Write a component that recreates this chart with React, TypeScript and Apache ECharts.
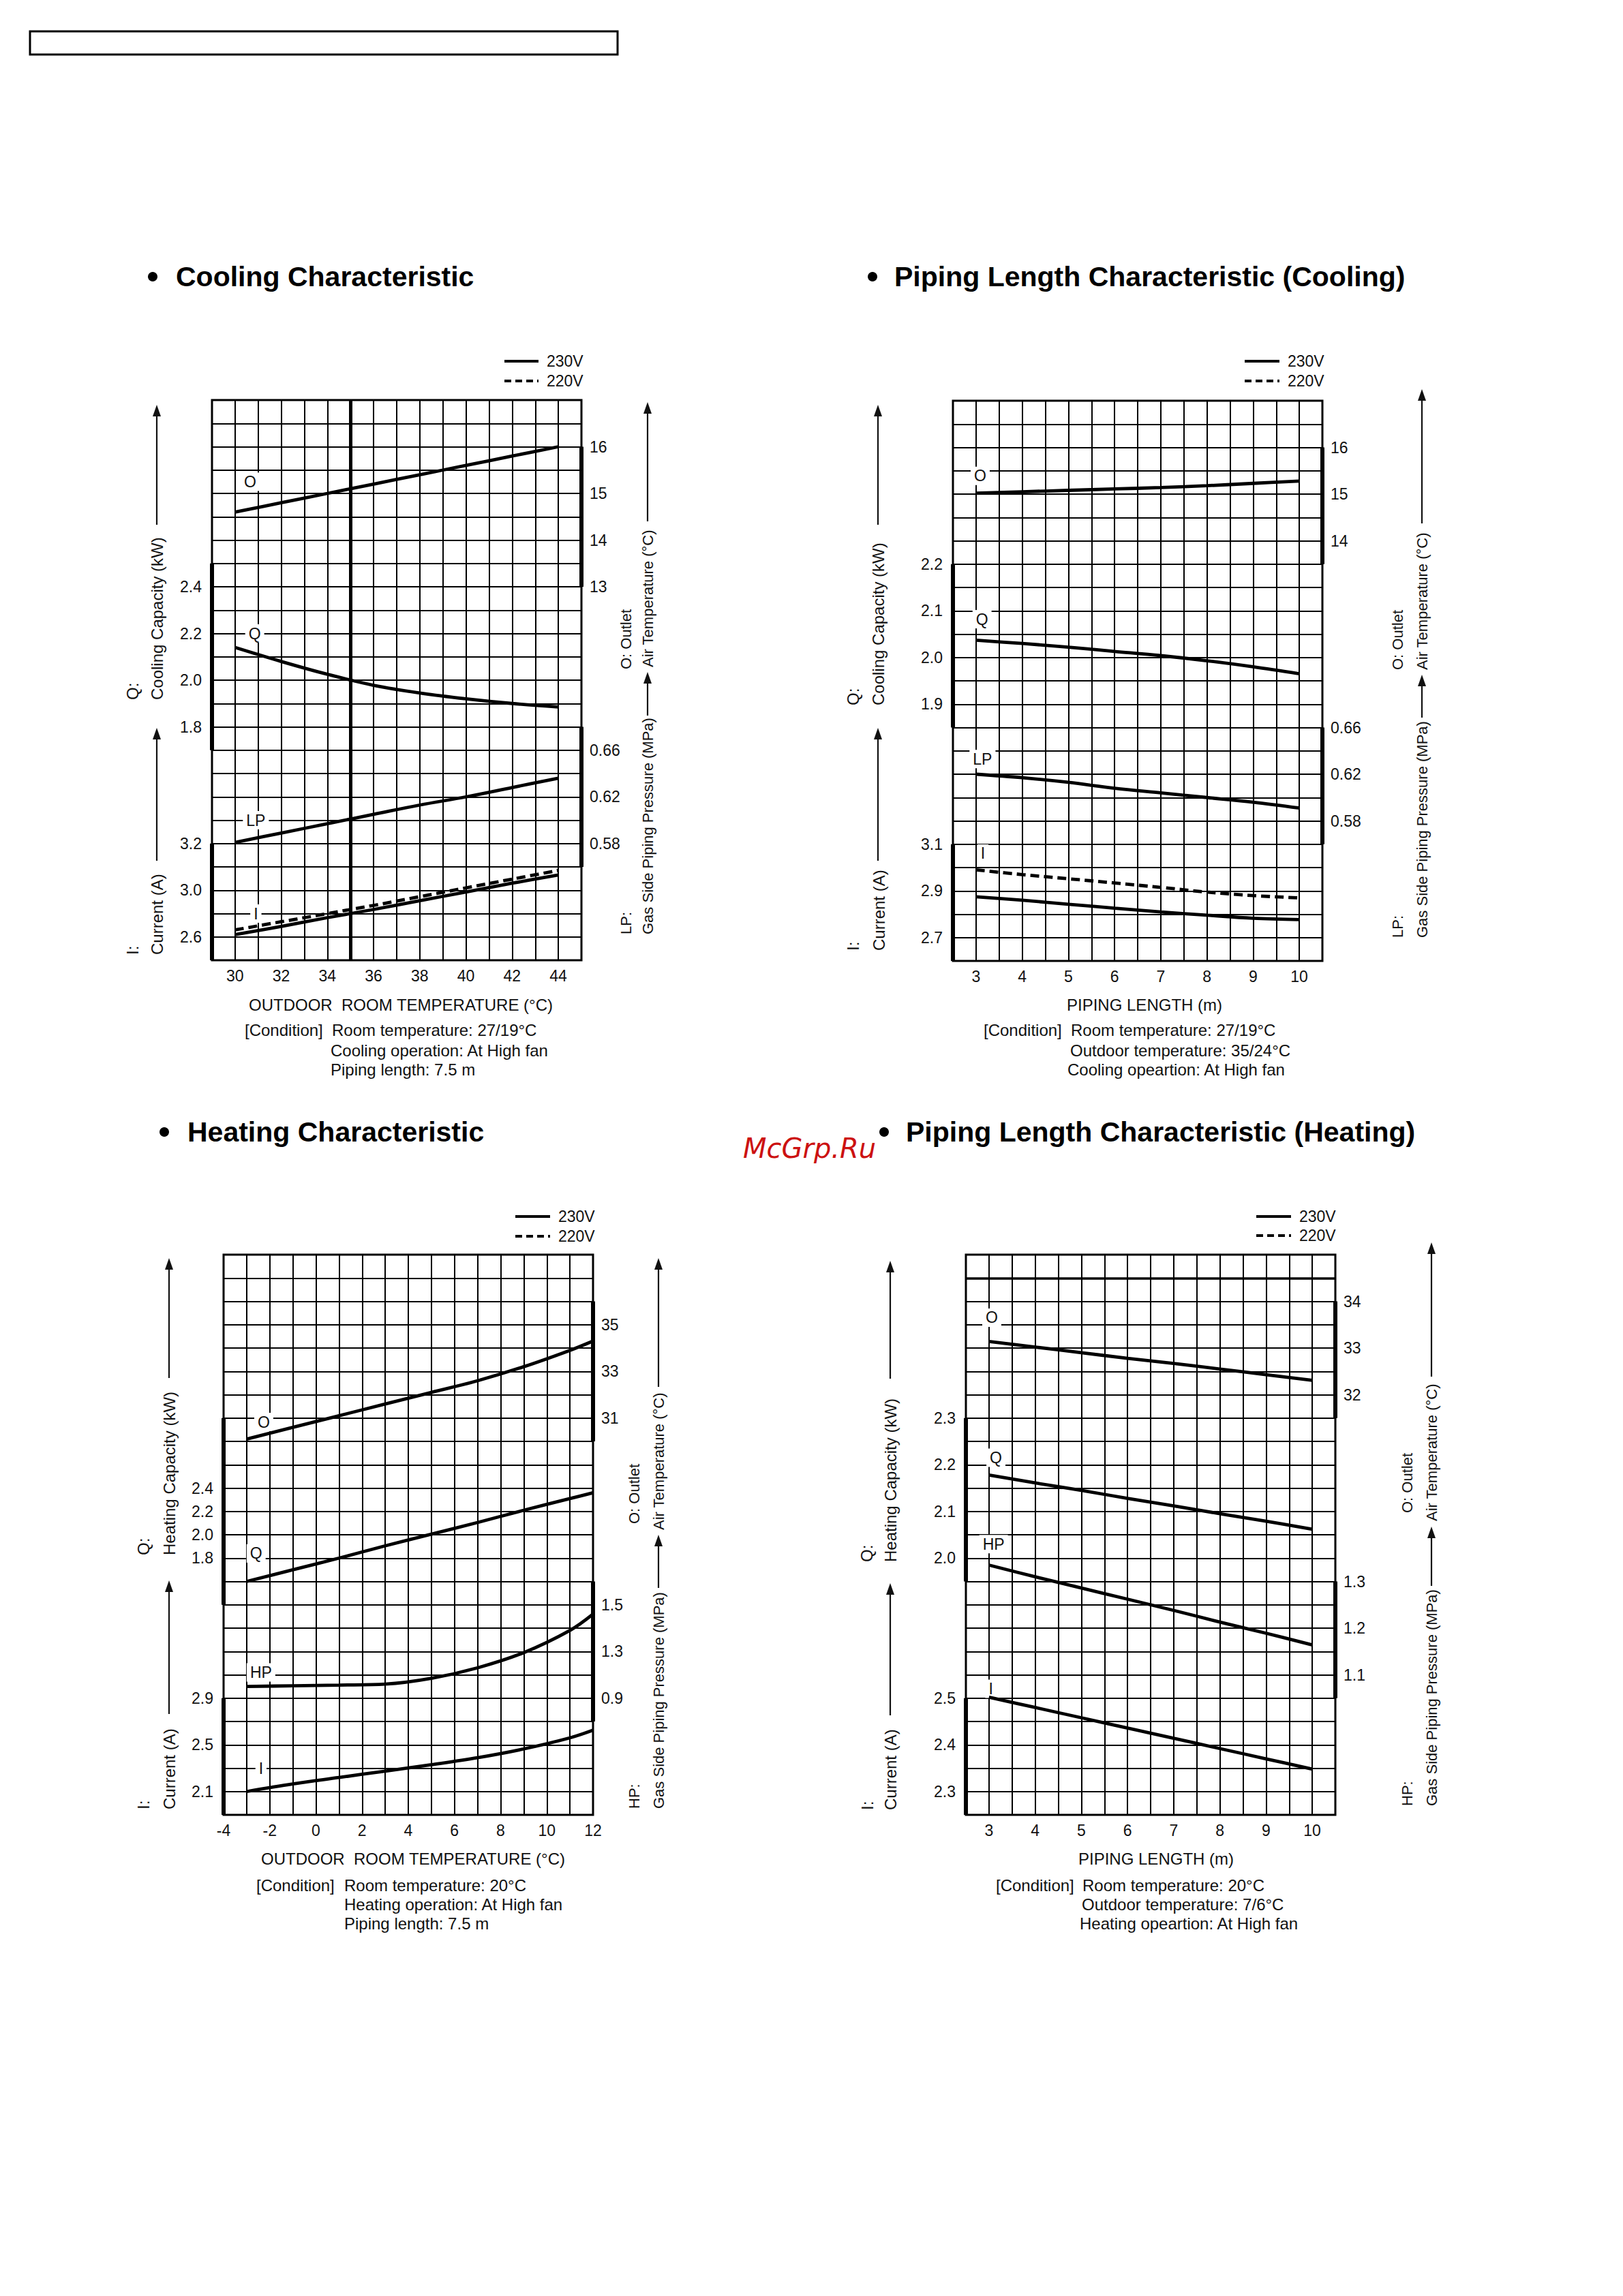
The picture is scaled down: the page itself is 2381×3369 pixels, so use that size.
import React, { useEffect, useRef } from "react";
import * as echarts from "echarts";

const M = 8;
const W = 2381 - 2 * M;
const H = 3369 - 2 * M;
const FONT = "'Liberation Sans', Arial, Helvetica, sans-serif";
const GW = 542;
const GH = 822;

// ---------- Chart 1 : Cooling Characteristic ----------
const C1_X = [30, 32, 34, 36, 38, 40, 42, 44];
const C1_O = [14.6, 14.8, 15.0, 15.2, 15.4, 15.6, 15.8, 16.0];
const C1_Q = [2.14, 2.08, 2.025, 1.978, 1.945, 1.92, 1.9, 1.885];
const C1_LP = [0.581, 0.589, 0.597, 0.605, 0.613, 0.62, 0.628, 0.636];
const C1_I230 = [2.62, 2.69, 2.765, 2.835, 2.91, 2.985, 3.06, 3.13];
const C1_I220 = [2.66, 2.73, 2.8, 2.87, 2.945, 3.02, 3.095, 3.17];
const C1_X_TICKS = [30, 32, 34, 36, 38, 40, 42, 44];
const C1_O_TICKS = [16, 15, 14, 13];
const C1_O_TEXT = ["16", "15", "14", "13"];
const C1_Q_TICKS = [2.4, 2.2, 2.0, 1.8];
const C1_Q_TEXT = ["2.4", "2.2", "2.0", "1.8"];
const C1_LP_TICKS = [0.66, 0.62, 0.58];
const C1_LP_TEXT = ["0.66", "0.62", "0.58"];
const C1_I_TICKS = [3.4, 3.0, 2.6];
const C1_I_TEXT = ["3.2", "3.0", "2.6"];

// ---------- Chart 2 : Piping Length Characteristic (Cooling) ----------
const C2_X = [3, 4, 5, 6, 7, 8, 9, 10];
const C2_O = [15.02, 15.05, 15.08, 15.11, 15.14, 15.18, 15.23, 15.28];
const C2_Q = [2.037, 2.03, 2.022, 2.013, 2.004, 1.993, 1.98, 1.965];
const C2_LP = [0.62, 0.617, 0.613, 0.608, 0.604, 0.6, 0.596, 0.591];
const C2_I230 = [2.875, 2.86, 2.843, 2.826, 2.81, 2.796, 2.783, 2.777];
const C2_I220 = [2.99, 2.97, 2.952, 2.934, 2.915, 2.895, 2.88, 2.87];
const C2_X_TICKS = [3, 4, 5, 6, 7, 8, 9, 10];
const C2_O_TICKS = [16, 15, 14];
const C2_O_TEXT = ["16", "15", "14"];
const C2_Q_TICKS = [2.2, 2.1, 2.0, 1.9];
const C2_Q_TEXT = ["2.2", "2.1", "2.0", "1.9"];
const C2_LP_TICKS = [0.66, 0.62, 0.58];
const C2_LP_TEXT = ["0.66", "0.62", "0.58"];
const C2_I_TICKS = [3.1, 2.9, 2.7];
const C2_I_TEXT = ["3.1", "2.9", "2.7"];

// ---------- Chart 3 : Heating Characteristic ----------
const C3_X = [-3, -1, 1, 3, 5, 7, 9, 11, 12];
const C3_O = [30.1, 30.6, 31.1, 31.6, 32.1, 32.6, 33.2, 33.9, 34.3];
const C3_Q = [1.6, 1.7, 1.8, 1.905, 2.005, 2.105, 2.21, 2.31, 2.36];
const C3_HP = [1.0, 1.006, 1.012, 1.02, 1.07, 1.16, 1.29, 1.48, 1.62];
const C3_I = [2.1, 2.165, 2.22, 2.275, 2.33, 2.39, 2.465, 2.56, 2.625];
const C3_X_TICKS = [-4, -2, 0, 2, 4, 6, 8, 10, 12];
const C3_O_TICKS = [35, 33, 31];
const C3_O_TEXT = ["35", "33", "31"];
const C3_Q_TICKS = [2.4, 2.2, 2.0, 1.8];
const C3_Q_TEXT = ["2.4", "2.2", "2.0", "1.8"];
const C3_HP_TICKS = [1.7, 1.3, 0.9];
const C3_HP_TEXT = ["1.5", "1.3", "0.9"];
const C3_I_TICKS = [2.9, 2.5, 2.1];
const C3_I_TEXT = ["2.9", "2.5", "2.1"];

// ---------- Chart 4 : Piping Length Characteristic (Heating) ----------
const C4_X = [3, 4, 5, 6, 7, 8, 9, 10];
const C4_O = [33.14, 33.02, 32.9, 32.78, 32.67, 32.55, 32.43, 32.31];
const C4_Q = [2.178, 2.161, 2.145, 2.128, 2.112, 2.095, 2.079, 2.062];
const C4_HP = [1.335, 1.31, 1.286, 1.262, 1.238, 1.213, 1.189, 1.164];
const C4_I = [2.502, 2.48, 2.458, 2.436, 2.414, 2.392, 2.37, 2.348];
const C4_X_TICKS = [3, 4, 5, 6, 7, 8, 9, 10];
const C4_O_TICKS = [34, 33, 32];
const C4_O_TEXT = ["34", "33", "32"];
const C4_Q_TICKS = [2.3, 2.2, 2.1, 2.0];
const C4_Q_TEXT = ["2.3", "2.2", "2.1", "2.0"];
const C4_HP_TICKS = [1.3, 1.2, 1.1];
const C4_HP_TEXT = ["1.3", "1.2", "1.1"];
const C4_I_TICKS = [2.5, 2.4, 2.3];
const C4_I_TEXT = ["2.5", "2.4", "2.3"];

const CHARTS = [
  {
    left: 311, top: 587,
    x: { min: 29, max: 45, interval: 1, ticks: C1_X_TICKS },
    axes: {
      O: { side: "right", min: 5, max: 17, ticks: C1_O_TICKS, texts: C1_O_TEXT, thick: [16, 13] },
      Q: { side: "left", min: 0.8, max: 3.2, ticks: C1_Q_TICKS, texts: C1_Q_TEXT, thick: [2.5, 1.7] },
      LP: { side: "right", min: 0.48, max: 0.96, ticks: C1_LP_TICKS, texts: C1_LP_TEXT, thick: [0.68, 0.56] },
      I: { side: "left", min: 2.4, max: 7.2, ticks: C1_I_TICKS, texts: C1_I_TEXT, thick: [3.4, 2.4] },
    },
    series: [
      { axis: "O", x: C1_X, y: C1_O, label: "O", at: [30.65, 15.25], vline: 35 },
      { axis: "Q", x: C1_X, y: C1_Q, label: "Q", at: [30.85, 2.2] },
      { axis: "LP", x: C1_X, y: C1_LP, label: "LP", at: [30.9, 0.6] },
      { axis: "I", x: C1_X, y: C1_I230, label: "I", at: [30.9, 2.8] },
      { axis: "I", x: C1_X, y: C1_I220, dashed: true, secondary: true },
    ],
  },
  {
    left: 1398, top: 588,
    x: { min: 2.5, max: 10.5, interval: 0.5, ticks: C2_X_TICKS },
    axes: {
      O: { side: "right", min: 5, max: 17, ticks: C2_O_TICKS, texts: C2_O_TEXT, thick: [16, 13.5] },
      Q: { side: "left", min: 1.35, max: 2.55, ticks: C2_Q_TICKS, texts: C2_Q_TEXT, thick: [2.2, 1.85] },
      LP: { side: "right", min: 0.46, max: 0.94, ticks: C2_LP_TICKS, texts: C2_LP_TEXT, thick: [0.66, 0.56] },
      I: { side: "left", min: 2.6, max: 5.0, ticks: C2_I_TICKS, texts: C2_I_TEXT, thick: [3.1, 2.6] },
    },
    series: [
      { axis: "O", x: C2_X, y: C2_O, label: "O", at: [3.09, 15.39] },
      { axis: "Q", x: C2_X, y: C2_Q, label: "Q", at: [3.13, 2.082] },
      { axis: "LP", x: C2_X, y: C2_LP, label: "LP", at: [3.14, 0.633] },
      { axis: "I", x: C2_X, y: C2_I230, label: "I", at: [3.15, 3.06] },
      { axis: "I", x: C2_X, y: C2_I220, dashed: true, secondary: true },
    ],
  },
  {
    left: 328, top: 1841,
    x: { min: -4, max: 12, interval: 1, ticks: C3_X_TICKS },
    axes: {
      O: { side: "right", min: 14, max: 38, ticks: C3_O_TICKS, texts: C3_O_TEXT, thick: [36, 30] },
      Q: { side: "left", min: -0.4, max: 4.4, ticks: C3_Q_TICKS, texts: C3_Q_TEXT, thick: [3.0, 1.4] },
      HP: { side: "right", min: -0.1, max: 4.7, ticks: C3_HP_TICKS, texts: C3_HP_TEXT, thick: [1.9, 0.7] },
      I: { side: "left", min: 1.9, max: 6.7, ticks: C3_I_TICKS, texts: C3_I_TEXT, thick: [2.9, 1.9] },
    },
    series: [
      { axis: "O", x: C3_X, y: C3_O, label: "O", at: [-2.26, 30.83] },
      { axis: "Q", x: C3_X, y: C3_Q, label: "Q", at: [-2.59, 1.84] },
      { axis: "HP", x: C3_X, y: C3_HP, label: "HP", at: [-2.38, 1.12] },
      { axis: "I", x: C3_X, y: C3_I, label: "I", at: [-2.38, 2.3] },
    ],
  },
  {
    left: 1417, top: 1841,
    x: { min: 2.5, max: 10.5, interval: 0.5, ticks: C4_X_TICKS },
    axes: {
      O: { side: "right", min: 23, max: 35, ticks: C4_O_TICKS, texts: C4_O_TEXT, thick: [34, 31.5] },
      Q: { side: "left", min: 1.45, max: 2.65, ticks: C4_Q_TICKS, texts: C4_Q_TEXT, thick: [2.3, 1.95] },
      HP: { side: "right", min: 0.8, max: 2.0, ticks: C4_HP_TICKS, texts: C4_HP_TEXT, thick: [1.3, 1.05] },
      I: { side: "left", min: 2.25, max: 3.45, ticks: C4_I_TICKS, texts: C4_I_TEXT, thick: [2.5, 2.25] },
    },
    series: [
      { axis: "O", x: C4_X, y: C4_O, label: "O", at: [3.06, 33.65], hline: 34.5 },
      { axis: "Q", x: C4_X, y: C4_Q, label: "Q", at: [3.15, 2.215] },
      { axis: "HP", x: C4_X, y: C4_HP, label: "HP", at: [3.1, 1.38] },
      { axis: "I", x: C4_X, y: C4_I, label: "I", at: [3.04, 2.52] },
    ],
  },
];

function fmt(v: number, ticks: number[], texts: string[]) {
  const i = ticks.findIndex((t) => Math.abs(t - v) < 1e-6);
  return i >= 0 ? texts[i] : "";
}

function htext(text: string, x: number, y: number, size: number, opts: any = {}) {
  return {
    type: "text",
    x: x - M,
    y: y - M,
    silent: true,
    style: {
      text,
      fontSize: size,
      fontFamily: opts.family || FONT,
      fontWeight: opts.weight || "normal",
      fontStyle: opts.style || "normal",
      fill: opts.color || "#111",
      align: opts.align || "left",
      verticalAlign: "middle",
      textAlign: opts.align || "left",
      textVerticalAlign: "middle",
    },
  };
}

function vtext(text: string, x: number, yBottom: number, size: number) {
  return {
    type: "text",
    x: x - M,
    y: yBottom - M,
    rotation: Math.PI / 2,
    silent: true,
    style: {
      text,
      fontSize: size,
      fontFamily: FONT,
      fill: "#111",
      align: "left",
      verticalAlign: "middle",
      textAlign: "left",
      textVerticalAlign: "middle",
    },
  };
}

function arrowUp(x: number, yBottom: number, yTop: number) {
  return [
    {
      type: "line",
      silent: true,
      shape: { x1: x - M, y1: yBottom - M, x2: x - M, y2: yTop + 12 - M },
      style: { stroke: "#111", lineWidth: 2.2 },
    },
    {
      type: "polygon",
      silent: true,
      shape: { points: [[x - 6 - M, yTop + 17 - M], [x - M, yTop - M], [x + 6 - M, yTop + 17 - M]] },
      style: { fill: "#111" },
    },
  ];
}

function legend(x1: number, x2: number, y1: number, y2: number) {
  return [
    { type: "line", silent: true, shape: { x1: x1 - M, y1: y1 - M, x2: x2 - M, y2: y1 - M }, style: { stroke: "#000", lineWidth: 4 } },
    htext("230V", x2 + 12, y1, 23),
    { type: "line", silent: true, shape: { x1: x1 - M, y1: y2 - M, x2: x2 - M, y2: y2 - M }, style: { stroke: "#000", lineWidth: 4, lineDash: [10, 6] } },
    htext("220V", x2 + 12, y2, 23),
  ];
}

function title(text: string, bx: number, tx: number, y: number) {
  return [
    { type: "circle", silent: true, shape: { cx: bx - M, cy: y - M, r: 7 }, style: { fill: "#000" } },
    htext(text, tx, y, 41, { weight: "bold", color: "#000" }),
  ];
}

function buildGraphics() {
  const g: any[] = [];
  g.push({ type: "rect", silent: true, shape: { x: 44 - M, y: 46 - M, width: 862, height: 34 }, style: { fill: "none", stroke: "#000", lineWidth: 3 } });

  g.push(...title("Cooling Characteristic", 224, 258, 406));
  g.push(...title("Piping Length Characteristic (Cooling)", 1280, 1312, 406));
  g.push(...title("Heating Characteristic", 241, 275, 1661));
  g.push(...title("Piping Length Characteristic (Heating)", 1297, 1329, 1661));
  g.push(htext("McGrp.Ru", 1090, 1685, 40, { style: "italic", color: "#cc1111", family: "'DejaVu Sans', sans-serif" }));

  g.push(...legend(740, 790, 530, 559));
  g.push(...legend(1826, 1877, 530, 559));
  g.push(...legend(756, 807, 1785, 1814));
  g.push(...legend(1843, 1894, 1785, 1813));

  // Chart 1 side titles
  g.push(...arrowUp(230, 770, 594));
  g.push(vtext("Q:", 194, 1027, 24), vtext("Cooling Capacity (kW)", 230, 1027, 24));
  g.push(...arrowUp(230, 1263, 1068));
  g.push(vtext("I:", 194, 1401, 24), vtext("Current (A)", 230, 1401, 24));
  g.push(...arrowUp(950, 765, 590));
  g.push(vtext("Air Temperature (°C)", 950, 979, 22), vtext("O: Outlet", 918, 982, 22));
  g.push(...arrowUp(950, 1050, 986));
  g.push(vtext("Gas Side Piping Pressure (MPa)", 950, 1371, 22), vtext("LP:", 918, 1371, 22));

  // Chart 2 side titles
  g.push(...arrowUp(1288, 770, 594));
  g.push(vtext("Q:", 1251, 1035, 24), vtext("Cooling Capacity (kW)", 1288, 1035, 24));
  g.push(...arrowUp(1288, 1263, 1068));
  g.push(vtext("I:", 1251, 1395, 24), vtext("Current (A)", 1289, 1395, 24));
  g.push(...arrowUp(2086, 768, 571));
  g.push(vtext("Air Temperature (°C)", 2086, 983, 22), vtext("O: Outlet", 2050, 983, 22));
  g.push(...arrowUp(2086, 1053, 990));
  g.push(vtext("Gas Side Piping Pressure (MPa)", 2086, 1376, 22), vtext("LP:", 2050, 1376, 22));

  // Chart 3 side titles
  g.push(...arrowUp(248, 2022, 1846));
  g.push(vtext("Q:", 210, 2282, 24), vtext("Heating Capacity (kW)", 248, 2282, 24));
  g.push(...arrowUp(248, 2515, 2319));
  g.push(vtext("I:", 210, 2655, 24), vtext("Current (A)", 248, 2655, 24));
  g.push(...arrowUp(966, 2035, 1846));
  g.push(vtext("Air Temperature (°C)", 966, 2245, 22), vtext("O: Outlet", 930, 2236, 22));
  g.push(...arrowUp(966, 2330, 2252));
  g.push(vtext("Gas Side Piping Pressure (MPa)", 966, 2654, 22), vtext("HP:", 930, 2654, 22));

  // Chart 4 side titles
  g.push(...arrowUp(1306, 2023, 1850));
  g.push(vtext("Q:", 1271, 2292, 24), vtext("Heating Capacity (kW)", 1306, 2292, 24));
  g.push(...arrowUp(1306, 2517, 2323));
  g.push(vtext("I:", 1272, 2656, 24), vtext("Current (A)", 1306, 2656, 24));
  g.push(...arrowUp(2100, 2020, 1823));
  g.push(vtext("Air Temperature (°C)", 2100, 2232, 22), vtext("O: Outlet", 2064, 2220, 22));
  g.push(...arrowUp(2100, 2327, 2240));
  g.push(vtext("Gas Side Piping Pressure (MPa)", 2100, 2650, 22), vtext("HP:", 2064, 2650, 22));

  // x-axis names and conditions
  g.push(htext("OUTDOOR  ROOM TEMPERATURE (°C)", 588, 1474, 24, { align: "center" }));
  g.push(htext("[Condition]", 359, 1511, 24), htext("Room temperature: 27/19°C", 487, 1511, 24));
  g.push(htext("Cooling operation: At High fan", 485, 1541, 24), htext("Piping length: 7.5 m", 485, 1569, 24));

  g.push(htext("PIPING LENGTH (m)", 1679, 1474, 24, { align: "center" }));
  g.push(htext("[Condition]", 1443, 1511, 24), htext("Room temperature: 27/19°C", 1571, 1511, 24));
  g.push(htext("Outdoor temperature: 35/24°C", 1570, 1541, 24), htext("Cooling opeartion: At High fan", 1566, 1569, 24));

  g.push(htext("OUTDOOR  ROOM TEMPERATURE (°C)", 606, 2727, 24, { align: "center" }));
  g.push(htext("[Condition]", 376, 2766, 24), htext("Room temperature: 20°C", 505, 2766, 24));
  g.push(htext("Heating operation: At High fan", 505, 2794, 24), htext("Piping length: 7.5 m", 505, 2822, 24));

  g.push(htext("PIPING LENGTH (m)", 1696, 2727, 24, { align: "center" }));
  g.push(htext("[Condition]", 1461, 2766, 24), htext("Room temperature: 20°C", 1588, 2766, 24));
  g.push(htext("Outdoor temperature: 7/6°C", 1587, 2794, 24), htext("Heating opeartion: At High fan", 1584, 2822, 24));
  return g;
}

function buildOption() {
  const grid: any[] = [];
  const xAxis: any[] = [];
  const yAxis: any[] = [];
  const series: any[] = [];
  CHARTS.forEach((c: any, ci: number) => {
    grid.push({
      left: c.left - M, top: c.top - M, width: GW, height: GH,
      show: true, borderColor: "#000", borderWidth: 3, backgroundColor: "transparent",
    });
    const xTexts = c.x.ticks.map((t: number) => String(t));
    xAxis.push({
      type: "value", gridIndex: ci, min: c.x.min, max: c.x.max, interval: c.x.interval,
      axisLine: { show: false }, axisTick: { show: false },
      splitLine: { show: true, lineStyle: { color: "#000", width: 2 } },
      axisLabel: {
        customValues: c.x.ticks, margin: 11, fontSize: 23, fontFamily: FONT, color: "#111",
        formatter: (v: number) => fmt(v, c.x.ticks, xTexts),
      },
    });
    yAxis.push({
      type: "value", gridIndex: ci, min: 0, max: 24, interval: 1, position: "left",
      axisLine: { show: false }, axisTick: { show: false }, axisLabel: { show: false },
      splitLine: { show: true, lineStyle: { color: "#000", width: 2 } },
    });
    const idx: any = {};
    Object.keys(c.axes).forEach((k) => {
      const a = c.axes[k];
      idx[k] = yAxis.length;
      yAxis.push({
        type: "value", gridIndex: ci, min: a.min, max: a.max, position: a.side,
        axisLine: { show: false }, axisTick: { show: false }, splitLine: { show: false },
        axisLabel: {
          customValues: a.ticks, margin: a.side === "left" ? 15 : 12,
          fontSize: 23, fontFamily: FONT, color: "#111",
          formatter: (v: number) => fmt(v, a.ticks, a.texts),
        },
      });
    });
    c.series.forEach((s: any) => {
      const a = c.axes[s.axis];
      const mlData: any[] = [];
      if (!s.secondary) {
        const xe = a.side === "left" ? c.x.min : c.x.max;
        mlData.push([{ coord: [xe, a.thick[0]] }, { coord: [xe, a.thick[1]] }]);
      }
      if (s.vline !== undefined) mlData.push({ xAxis: s.vline, lineStyle: { width: 5 } });
      if (s.hline !== undefined) mlData.push({ yAxis: s.hline, lineStyle: { width: 3.5 } });
      series.push({
        type: "line",
        xAxisIndex: ci,
        yAxisIndex: idx[s.axis],
        data: s.x.map((x: number, i: number) => [x, s.y[i]]),
        smooth: 0.35,
        showSymbol: false,
        symbol: "none",
        clip: false,
        silent: true,
        z: 5,
        lineStyle: { color: "#000", width: 4.8, type: s.dashed ? [13, 7] : "solid" },
        markLine: mlData.length
          ? {
              silent: true, symbol: ["none", "none"], label: { show: false },
              lineStyle: { color: "#000", width: 6, type: "solid" }, data: mlData,
            }
          : undefined,
        markPoint: s.label
          ? {
              silent: true, symbol: "rect", symbolSize: 1, itemStyle: { color: "rgba(0,0,0,0)" },
              label: {
                show: true, position: "inside", formatter: s.label, color: "#111",
                fontSize: 23, fontFamily: FONT, backgroundColor: "#fff", padding: [2, 5],
              },
              data: [{ coord: s.at }],
            }
          : undefined,
      });
    });
  });
  return {
    animation: false,
    backgroundColor: "#fff",
    grid, xAxis, yAxis, series,
    graphic: { elements: buildGraphics() },
  };
}

export default function App() {
  const ref = useRef<HTMLDivElement>(null);
  useEffect(() => {
    if (!ref.current) return;
    const chart = echarts.init(ref.current, undefined, { renderer: "svg", width: W, height: H });
    chart.setOption(buildOption() as any);
    return () => chart.dispose();
  }, []);
  return <div ref={ref} style={{ width: W, height: H }} />;
}
